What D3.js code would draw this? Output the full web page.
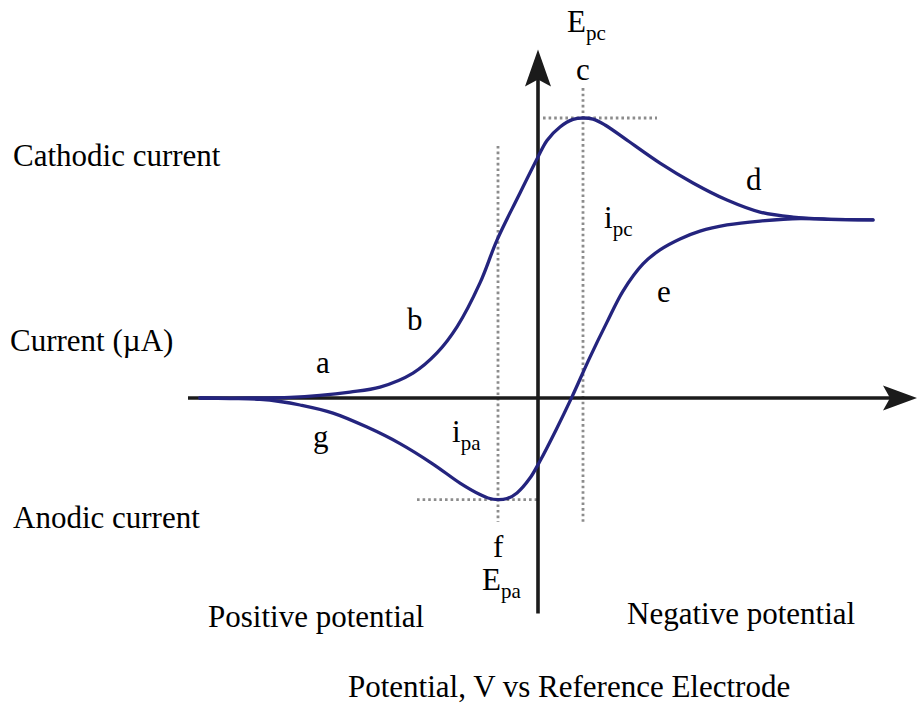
<!DOCTYPE html>
<html>
<head>
<meta charset="utf-8">
<script src="https://cdn.jsdelivr.net/npm/d3@7"></script>
</head>
<body style="margin:0">
<svg id="chart" width="918" height="704"></svg>
<script>
// Cyclic voltammogram: potential E (V), current I (µA).
// Forward sweep toward negative potential (cathodic wave a → b → c → d).
const cathodicSweep = [
  [0.676, 0], [0.576, 0], [0.496, 0.02], [0.436, 0.09], [0.376, 0.21],
  [0.316, 0.39], [0.25, 0.89], [0.202, 1.61], [0.162, 2.54], [0.116, 4.11],
  [0.082, 5.64], [0.04, 7.18], [0.0, 8.61], [-0.018, 9.2], [-0.044, 9.68],
  [-0.07, 9.95], [-0.09, 10.0], [-0.11, 9.96], [-0.134, 9.75], [-0.178, 9.21],
  [-0.244, 8.39], [-0.31, 7.68], [-0.378, 7.07], [-0.444, 6.64],
  [-0.51, 6.46], [-0.578, 6.39], [-0.67, 6.36]
];

// Reverse sweep back toward positive potential (e → f → g).
const anodicSweep = [
  [-0.67, 6.36], [-0.578, 6.38], [-0.524, 6.41], [-0.444, 6.32], [-0.378, 6.18],
  [-0.324, 5.96], [-0.284, 5.68], [-0.244, 5.29], [-0.21, 4.79], [-0.17, 3.82],
  [-0.138, 2.71], [-0.104, 1.46], [-0.068, 0.04], [-0.036, -1.14],
  [-0.004, -2.25], [0.016, -2.86], [0.042, -3.39], [0.062, -3.59],
  [0.08, -3.63], [0.1, -3.57], [0.116, -3.45], [0.156, -3.04], [0.21, -2.36],
  [0.276, -1.63], [0.342, -1.04], [0.41, -0.54], [0.476, -0.25],
  [0.516, -0.125], [0.556, -0.05], [0.616, -0.02], [0.676, 0]
];

// Peak potentials and peak currents.
const peaks = { Epc: -0.09, ipc: 10.0, Epa: 0.08, ipa: -3.63 };

// Extents of the guide lines through the peaks.
const guideIpcE = [-0.01, -0.238];
const guideEpcI = [11.07, -4.43];
const guideEpaI = [9.0, -4.43];
const guideIpaE = [0.242, 0.002];

// Axis extents.
const potentialExtent = [0.7, -0.758];
const currentExtent = [-7.7, 12.45];

const svg = d3.select("#chart");

// Positive potential on the left, negative on the right.
const x = d3.scaleLinear().domain([0.7, -0.76]).range([188, 918]);
const y = d3.scaleLinear().domain([10, 0]).range([118, 398]);

// Dotted guide lines
const guide = svg.append("g")
  .attr("fill", "none")
  .attr("stroke", "#8c8c8c")
  .attr("stroke-width", 2.8)
  .attr("stroke-dasharray", "2.6 3");

guide.append("line")
  .attr("x1", x(guideIpcE[0])).attr("x2", x(guideIpcE[1]))
  .attr("y1", y(peaks.ipc)).attr("y2", y(peaks.ipc));
guide.append("line")
  .attr("x1", x(peaks.Epc)).attr("x2", x(peaks.Epc))
  .attr("y1", y(guideEpcI[0])).attr("y2", y(guideEpcI[1]));
guide.append("line")
  .attr("x1", x(peaks.Epa)).attr("x2", x(peaks.Epa))
  .attr("y1", y(guideEpaI[0])).attr("y2", y(guideEpaI[1]));
guide.append("line")
  .attr("x1", x(guideIpaE[0])).attr("x2", x(guideIpaE[1]))
  .attr("y1", y(peaks.ipa)).attr("y2", y(peaks.ipa));

// Axes with arrowheads
const axisColor = "#1b1b1b";
const ax = svg.append("g");
const x0 = x(0), y0 = y(0);
const xEnd = x(potentialExtent[1]);
const yTop = y(currentExtent[1]);

ax.append("line")
  .attr("x1", x(potentialExtent[0])).attr("x2", xEnd - 20)
  .attr("y1", y0).attr("y2", y0)
  .attr("stroke", axisColor).attr("stroke-width", 3.6);
ax.append("line")
  .attr("x1", x0).attr("x2", x0)
  .attr("y1", y(currentExtent[0])).attr("y2", yTop + 20)
  .attr("stroke", axisColor).attr("stroke-width", 3.6);

ax.append("path")
  .attr("d", `M${xEnd},${y0} L${xEnd - 34},${y0 - 12.5} L${xEnd - 27},${y0} L${xEnd - 34},${y0 + 12.5} Z`)
  .attr("fill", axisColor);
ax.append("path")
  .attr("d", `M${x0},${yTop} L${x0 - 13},${yTop + 37} L${x0},${yTop + 30} L${x0 + 13},${yTop + 37} Z`)
  .attr("fill", axisColor);

// Voltammogram
const line = d3.line()
  .x(d => x(d[0]))
  .y(d => y(d[1]))
  .curve(d3.curveCatmullRom.alpha(0.5));

const curves = svg.append("g")
  .attr("fill", "none")
  .attr("stroke", "#24247e")
  .attr("stroke-width", 3.3)
  .attr("stroke-linejoin", "round")
  .attr("stroke-linecap", "round");

curves.append("path").attr("d", line(cathodicSweep));
curves.append("path").attr("d", line(anodicSweep));

// Labels (serif, subscripts for the peak symbols)
function label(txt, px, py, sub) {
  const t = svg.append("text")
    .attr("x", px).attr("y", py)
    .attr("font-size", 31)
    .style("font-family", "\"Liberation Serif\"")
    .text(txt);
  if (sub) {
    t.append("tspan")
      .attr("font-size", 21)
      .attr("dy", 8)
      .text(sub);
  }
  return t;
}

label("Cathodic current", 13, 166);
label("Current (\u00b5A)", 10, 351);
label("Anodic current", 13, 528);
label("Positive potential", 208, 627);
label("Negative potential", 627, 624);
label("Potential, V vs Reference Electrode", 348, 697);

label("E", 567, 32, "pc");
label("c", 576, 80);
label("d", 746, 190);
label("i", 604, 228, "pc");
label("e", 657, 302);
label("b", 407, 330);
label("a", 316, 373);
label("g", 313, 447);
label("i", 452, 442, "pa");
label("f", 493, 557);
label("E", 482, 590, "pa");
</script>
</body>
</html>
